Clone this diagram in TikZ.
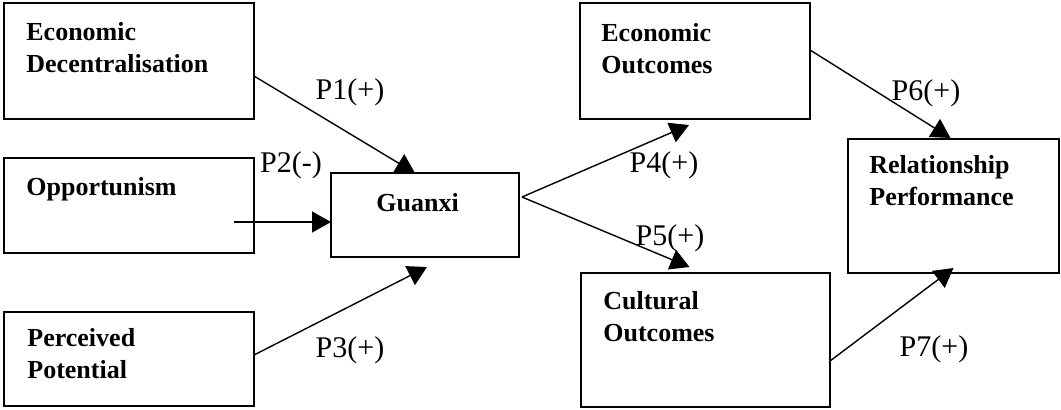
\documentclass[tikz,border=0pt]{standalone}
\usepackage{fontspec}
\setmainfont{Liberation Serif}
\usetikzlibrary{arrows.meta,calc}

\begin{document}
\begin{tikzpicture}[x=0.5pt,y=-0.5pt,
  box/.style={draw, line width=0.9pt, outer sep=0pt, inner sep=0pt, anchor=north west},
  boxtext/.style={anchor=north west, inner sep=0pt, align=left,
                  font=\fontsize{13}{16}\selectfont\bfseries},
  lbl/.style={inner sep=0pt, font=\fontsize{15}{18}\selectfont},
  arrow/.style={-{Triangle[length=9.5pt,width=10.5pt]}, line width=0.7pt}
]
\useasboundingbox (0,0) rectangle (1061,409);

\node[box, minimum width=125pt, minimum height=58pt] (ed) at (4,3) {};
\node[box, minimum width=125pt, minimum height=47.5pt] (opp) at (4,158) {};
\node[box, minimum width=125pt, minimum height=47pt] (pp) at (4,312) {};
\node[box, minimum width=94pt, minimum height=42pt] (gx) at (331,173) {};
\node[box, minimum width=115pt, minimum height=58pt] (eo) at (580,3) {};
\node[box, minimum width=124.5pt, minimum height=67pt] (co) at (581,273) {};
\node[box, minimum width=105.5pt, minimum height=67pt] (rp) at (848,139) {};

\node[boxtext] (ed-t) at ([shift={(22,19)}]ed.north west) {Economic\\Decentralisation};
\node[boxtext] (opp-t) at ([shift={(22,19)}]opp.north west) {Opportunism};
\node[boxtext] (pp-t) at ([shift={(23,16)}]pp.north west) {Perceived\\Potential};
\node[boxtext] (gx-t) at ([shift={(45,20)}]gx.north west) {Guanxi};
\node[boxtext] (eo-t) at ([shift={(21,20)}]eo.north west) {Economic\\Outcomes};
\node[boxtext] (co-t) at ([shift={(22,18)}]co.north west) {Cultural\\Outcomes};
\node[boxtext] (rp-t) at ([shift={(21,16)}]rp.north west) {Relationship\\Performance};

\draw[arrow] ($(ed.east)+(0,15)$) -- ($(gx.north)+(-10,0)$);
\draw[arrow] ($(opp.east)+(-20,16.5)$) -- ($(gx.west)+(0,7)$);
\draw[arrow] ($(pp.east)+(0,-4)$) -- ($(gx.south)+(2,10)$);
\draw[arrow] ($(gx.east)+(3,-18)$) -- ($(eo.south)+(-6,6)$);
\draw[arrow] ($(gx.east)+(3,-18)$) -- ($(co.north)+(-16,-6)$);
\draw[arrow] ($(eo.east)+(0,-11)$) -- ($(rp.north)+(-3,-1)$);
\draw[arrow] ($(co.east)+(0,21)$) -- ($(rp.south)+(0,-5)$);

\node[lbl] (p1) at (350,92) {P1(+)};
\node[lbl] (p2) at (291,165) {P2(-)};
\node[lbl] (p3) at (350,350) {P3(+)};
\node[lbl] (p4) at (664,165) {P4(+)};
\node[lbl] (p5) at (670,238) {P5(+)};
\node[lbl] (p6) at (926,93) {P6(+)};
\node[lbl] (p7) at (934,349) {P7(+)};
\end{tikzpicture}
\end{document}
